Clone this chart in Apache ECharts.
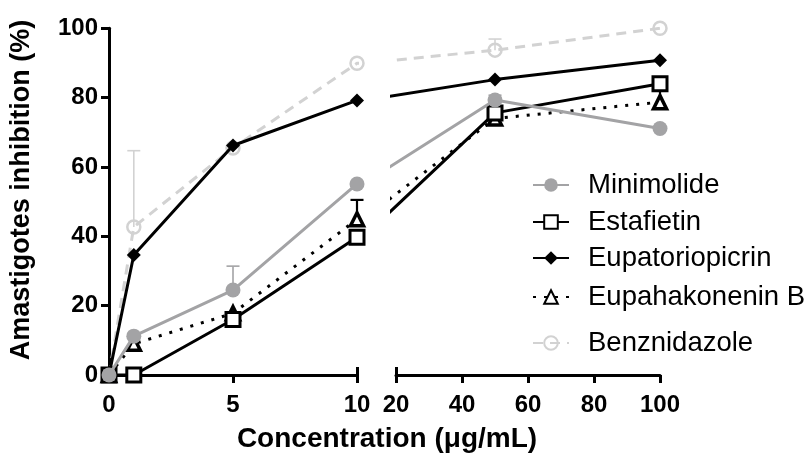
<!DOCTYPE html>
<html>
<head>
<meta charset="utf-8">
<script src="https://cdn.jsdelivr.net/npm/echarts@6/dist/echarts.min.js"></script>
<style>
html,body{margin:0;padding:0;background:#fff;}
#chart{width:810px;height:459px;}
</style>
</head>
<body>
<div id="chart"></div>
<script>
// ---- data ----
const concentrations = [0, 1, 5, 10, 50, 100];
const seriesNames = ['Minimolide', 'Estafietin', 'Eupatoriopicrin', 'Eupahakonenin B', 'Benznidazole'];
const minimolide      = [0, 11.2, 24.5, 55.1, 79.3, 71.1];
const estafietin      = [0, 0.0, 16.0, 39.7, 75.6, 84.0];
const eupatoriopicrin = [0, 34.6, 66.2, 79.2, 85.2, 90.8];
const eupahakonenin   = [0, 9.0, 17.8, 44.9, 74.0, 78.7];
const benznidazole    = [0, 42.7, 65.5, 89.9, 93.7, 100];
const minimolideErr    = [0, 0, 6.9, 0, 1.4, 0];
const eupahakoneninErr = [0, 0, 0, 5.6, 0, 3.5];
const benznidazoleErr  = [0, 22.0, 0, 0, 3.2, 0];
const leftTicks = [0, 5, 10];
const rightTicks = [20, 40, 60, 80, 100];
const yTicks = [0, 20, 40, 60, 80, 100];

// ---- styling ----
const FONT = "'Liberation Sans', Arial, sans-serif";
const styles = {
  'Minimolide':      {color: '#a3a3a5', symbol: 'circle',   size: 15, fill: '#a3a3a5', border: '#a3a3a5', bw: 0,   line: 'solid',   z: 5},
  'Estafietin':      {color: '#000',    symbol: 'rect',     size: 14, fill: '#fff',    border: '#000',    bw: 3,   line: 'solid',   z: 3},
  'Eupatoriopicrin': {color: '#000',    symbol: 'diamond',  size: 14, fill: '#000',    border: '#000',    bw: 0,   line: 'solid',   z: 4},
  'Eupahakonenin B': {color: '#000',    symbol: 'triangle', size: 13, fill: '#fff',    border: '#000',    bw: 3.5, line: [3, 8],    z: 2},
  'Benznidazole':    {color: '#d2d2d2', symbol: 'circle',   size: 13, fill: 'rgba(255,255,255,0)', border: '#d2d2d2', bw: 2.5, line: [10, 7], z: 1}
};
const values = {
  'Minimolide': minimolide, 'Estafietin': estafietin, 'Eupatoriopicrin': eupatoriopicrin,
  'Eupahakonenin B': eupahakonenin, 'Benznidazole': benznidazole
};
const errors = {'Minimolide': minimolideErr, 'Eupahakonenin B': eupahakoneninErr, 'Benznidazole': benznidazoleErr};
const drawOrder = ['Benznidazole', 'Eupahakonenin B', 'Estafietin', 'Eupatoriopicrin', 'Minimolide'];

const Y0 = 375, Y100 = 28.3;
const leftL = 109, leftR = 357;
const rightL = 396, rightR = 660;
const rightMin = 18.8;
const pxPerUnitR = (rightR - rightL) / (100 - 20);
const rightSeriesL = rightL - (20 - rightMin) * pxPerUnitR;

const tickLabel = {fontFamily: FONT, fontWeight: 'bold', fontSize: 24, color: '#000'};

const grids = [
  {left: leftL, width: leftR - leftL, top: Y100, height: Y0 - Y100},
  {left: rightSeriesL, width: rightR - rightSeriesL, top: Y100, height: Y0 - Y100},
  {left: rightL, width: rightR - rightL, top: Y100, height: Y0 - Y100},
  {left: leftL, width: 556, top: 5, height: Y0 - 5}
];

const axisLineStyle = {color: '#000', width: 3};
const xAxes = [
  {gridIndex: 0, type: 'value', position: 'bottom', min: 0, max: 10, interval: 5,
   axisLine: {show: true, lineStyle: axisLineStyle},
   axisTick: {show: true, length: 8, lineStyle: {color: '#000', width: 3}, customValues: leftTicks},
   axisLabel: {show: true, margin: 18, customValues: leftTicks, ...tickLabel},
   splitLine: {show: false}},
  {gridIndex: 0, type: 'value', position: 'bottom', min: 0, max: 10,
   axisLine: {show: false},
   axisTick: {show: true, inside: true, length: 8, lineStyle: {color: '#000', width: 3}, customValues: [10]},
   axisLabel: {show: false}, splitLine: {show: false}},
  {gridIndex: 1, type: 'value', min: rightMin, max: 100, show: false},
  {gridIndex: 2, type: 'value', position: 'bottom', min: 20, max: 100, interval: 20,
   axisLine: {show: true, lineStyle: axisLineStyle},
   axisTick: {show: true, length: 8, lineStyle: {color: '#000', width: 3}, customValues: rightTicks},
   axisLabel: {show: true, margin: 18, customValues: rightTicks, ...tickLabel},
   splitLine: {show: false}},
  {gridIndex: 2, type: 'value', position: 'bottom', min: 20, max: 100,
   axisLine: {show: false},
   axisTick: {show: true, inside: true, length: 8, lineStyle: {color: '#000', width: 3}, customValues: [20]},
   axisLabel: {show: false}, splitLine: {show: false}},
  {gridIndex: 3, type: 'value', min: 0, max: 1,
   axisLine: {show: false}, axisTick: {show: false}, axisLabel: {show: false}, splitLine: {show: false},
   name: 'Concentration (\u03bcg/mL)', nameLocation: 'middle', nameGap: 50,
   nameTextStyle: {fontFamily: FONT, fontWeight: 'bold', fontSize: 28, color: '#000'}}
];
const yAxes = [
  {gridIndex: 0, type: 'value', min: 0, max: 100, interval: 20,
   axisLine: {show: true, lineStyle: axisLineStyle},
   axisTick: {show: true, length: 8, lineStyle: {color: '#000', width: 3}},
   axisLabel: {show: true, margin: 11, ...tickLabel},
   splitLine: {show: false}},
  {gridIndex: 1, type: 'value', min: 0, max: 100, show: false},
  {gridIndex: 2, type: 'value', min: 0, max: 100, show: false},
  {gridIndex: 3, type: 'value', min: 0, max: 1,
   axisLine: {show: false}, axisTick: {show: false}, axisLabel: {show: false}, splitLine: {show: false},
   name: 'Amastigotes inhibition (%)', nameLocation: 'middle', nameGap: 74,
   nameTextStyle: {fontFamily: FONT, fontWeight: 'bold', fontSize: 27, color: '#000'}}
];

function lineSeries(name, panel) {
  const st = styles[name];
  const vals = values[name];
  const idx = panel === 0 ? [0, 1, 2, 3, 4] : [3, 4, 5];
  return {
    type: 'line', name: name,
    xAxisIndex: panel === 0 ? 0 : 2, yAxisIndex: panel === 0 ? 0 : 1,
    data: idx.map(i => [concentrations[i], vals[i]]),
    clip: true, z: 2 + st.z * 0.01,
    symbol: st.symbol, symbolSize: st.size, showAllSymbol: true,
    lineStyle: {color: st.color, width: 3, type: st.line, cap: 'butt'},
    itemStyle: {color: st.fill, borderColor: st.border, borderWidth: st.bw},
    emphasis: {disabled: true}, silent: true
  };
}

function errorSeries(name, panel) {
  const st = styles[name];
  const vals = values[name];
  const errs = errors[name];
  const data = [];
  concentrations.forEach((c, i) => {
    const inPanel = panel === 0 ? c <= 10 : c > 10;
    if (inPanel && errs[i] > 0) data.push([c, vals[i], errs[i]]);
  });
  const thin = st.color !== '#000';
  return {
    type: 'custom', name: name + ' SD',
    xAxisIndex: panel === 0 ? 0 : 2, yAxisIndex: panel === 0 ? 0 : 1,
    data: data, z: 1, silent: true,
    renderItem: function (params, api) {
      const x = api.value(0), y = api.value(1), e = api.value(2);
      const p0 = api.coord([x, y]);
      const p1 = api.coord([x, y + e]);
      const sty = {stroke: st.color, lineWidth: thin ? 1.6 : 2.2};
      return {type: 'group', children: [
        {type: 'line', shape: {x1: p0[0], y1: p0[1], x2: p1[0], y2: p1[1]}, style: sty},
        {type: 'line', shape: {x1: p1[0] - 6.5, y1: p1[1], x2: p1[0] + 6.5, y2: p1[1]}, style: sty}
      ]};
    }
  };
}

const series = [];
Object.keys(errors).forEach(n => { series.push(errorSeries(n, 0)); series.push(errorSeries(n, 1)); });
drawOrder.forEach(n => { series.push(lineSeries(n, 0)); series.push(lineSeries(n, 1)); });

const legendCenters = {'Minimolide': 180, 'Estafietin': 217, 'Eupatoriopicrin': 253, 'Eupahakonenin B': 292, 'Benznidazole': 338};
const legends = seriesNames.map(n => ({
  data: [n], left: 527, top: legendCenters[n] - 15, orient: 'vertical',
  itemWidth: 36, itemHeight: 17, selectedMode: false,
  textStyle: {fontFamily: FONT, fontSize: 27.5, color: '#000', lineHeight: 30, padding: [0, 0, 0, 14]}
}));

const chart = echarts.init(document.getElementById('chart'), null, {renderer: 'canvas'});
chart.setOption({
  animation: false,
  backgroundColor: '#fff',
  grid: grids,
  xAxis: xAxes,
  yAxis: yAxes,
  legend: legends,
  series: series
});
</script>
</body>
</html>
